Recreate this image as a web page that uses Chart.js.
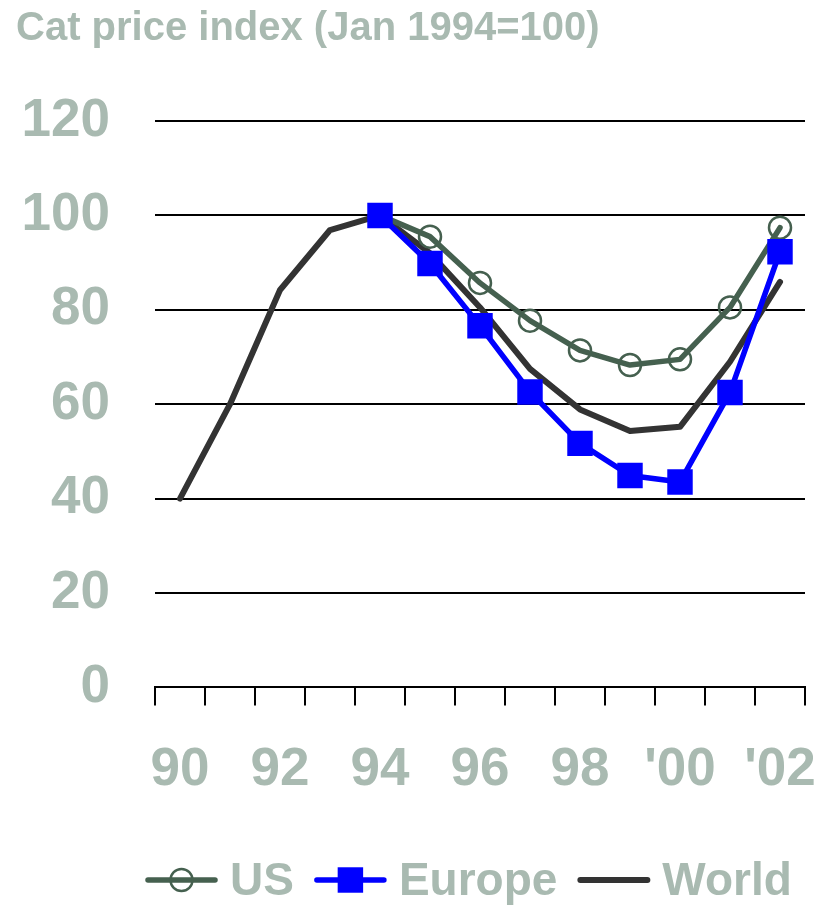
<!DOCTYPE html>
<html><head><meta charset="utf-8">
<script src="https://cdn.jsdelivr.net/npm/chart.js@4/dist/chart.umd.min.js"></script>
<style>html,body{margin:0;padding:0;background:#fff;overflow:hidden}#wrap{width:818px;height:909px}</style>
</head><body><div id="wrap"><canvas id="c" width="818" height="909"></canvas></div>
<script>
// ---- data ----
const years = ['90','91','92','93','94','95','96','97','98','99',"'00","'01","'02"];
const tickLabels = ['90','','92','','94','','96','','98','',"'00",'',"'02"];
const usValues = [null,null,null,null,100,95.5,85.7,77.7,71.4,68.3,69.5,80.5,97.4];
const europeValues = [null,null,null,null,100,89.8,76.6,62.6,51.7,44.9,43.5,62.5,92.3];
const worldValues = [40,60,84.2,96.9,100,92,80.5,67.5,58.9,54.3,55.2,69,85.9];
const seriesNames = ['US','Europe','World'];
const titleText = 'Cat price index (Jan 1994=100)';

// ---- styling ----
const labelColor = '#a9bab1';
function hasFont(name){
  const c=document.createElement('canvas').getContext('2d');
  c.font='40px monospace'; const a=c.measureText(titleText).width;
  c.font='40px "'+name+'", monospace'; const b=c.measureText(titleText).width;
  return Math.abs(a-b)>0.5;
}
const narrow = hasFont('Liberation Sans Narrow');
const narrowFam = narrow ? '"Liberation Sans Narrow", "Liberation Sans", Arial, sans-serif' : '"Liberation Sans", Arial, sans-serif';
const titleSize = narrow ? 48 : 40;
const legendSize = narrow ? 54 : 46;
const mainFam = '"Liberation Sans", Arial, sans-serif';
const titleLine = titleSize * 1.2;

const legendPlugin = {
  id:'customLegend',
  afterDraw(chart){
    const ctx = chart.ctx;
    ctx.save();
    let x = 145; const yc = 880; const sw = 73;
    ctx.font = 'bold ' + legendSize + 'px ' + narrowFam;
    ctx.textBaseline = 'middle'; ctx.textAlign = 'left';
    chart.data.datasets.forEach(ds => {
      ctx.strokeStyle = ds.borderColor; ctx.lineWidth = ds.borderWidth; ctx.lineCap = 'round';
      ctx.beginPath(); ctx.moveTo(x+3, yc); ctx.lineTo(x+sw-3, yc); ctx.stroke();
      const cx = x + sw/2;
      if (ds.pointStyle === 'circle' && ds.pointRadius > 0) {
        ctx.lineWidth = ds.pointBorderWidth; ctx.strokeStyle = ds.pointBorderColor;
        ctx.beginPath(); ctx.arc(cx, yc, ds.pointRadius, 0, Math.PI*2); ctx.stroke();
      } else if (ds.pointStyle === 'rect' && ds.pointRadius > 0) {
        const s = ds.pointRadius * Math.SQRT1_2;
        ctx.fillStyle = ds.pointBackgroundColor; ctx.fillRect(cx - s, yc - s, 2*s, 2*s);
      }
      ctx.fillStyle = labelColor;
      ctx.fillText(ds.label, x + sw + 12, yc + 2);
      x += sw + 12 + ctx.measureText(ds.label).width + 20;
    });
    ctx.restore();
  }
};

new Chart(document.getElementById('c'), {
  type: 'line',
  data: {
    labels: years,
    datasets: [
      { label: seriesNames[0], data: usValues, borderColor: '#45604f', borderWidth: 5.5,
        pointStyle: 'circle', pointRadius: 11, pointBorderWidth: 2.5, pointBorderColor: '#45604f',
        pointBackgroundColor: 'rgba(0,0,0,0)', order: 2, tension: 0 },
      { label: seriesNames[1], data: europeValues, borderColor: '#0000ff', borderWidth: 5.5,
        pointStyle: 'rect', pointRadius: 18, pointBorderWidth: 0, pointBorderColor: '#0000ff',
        pointBackgroundColor: '#0000ff', order: 1, tension: 0 },
      { label: seriesNames[2], data: worldValues, borderColor: '#333333', borderWidth: 6,
        pointStyle: 'circle', pointRadius: 0, order: 3, tension: 0 }
    ]
  },
  options: {
    responsive: false, animation: false, devicePixelRatio: 1,
    layout: { autoPadding: false, padding: { left: 16, right: 13, top: 0, bottom: 74 } },
    plugins: {
      legend: { display: false },
      tooltip: { enabled: false },
      title: { display: true, text: titleText, align: 'start', color: labelColor,
        font: { family: narrowFam, size: titleSize, weight: 'bold', lineHeight: 1.2 },
        padding: { top: 5, bottom: 121 - 5 - titleLine } }
    },
    elements: { line: { borderJoinStyle: 'round', borderCapStyle: 'round' } },
    scales: {
      x: {
        type: 'category', offset: true,
        afterFit: (s) => { s.paddingLeft = 0; s.paddingRight = 0; },
        grid: { offset: true, drawOnChartArea: false, drawTicks: true, tickLength: 18, color: '#000', lineWidth: 2 },
        border: { display: true, color: '#000', width: 2 },
        ticks: { autoSkip: false, maxRotation: 0, minRotation: 0, padding: 33,
          color: labelColor, font: { family: mainFam, size: 53, weight: 'bold' },
          callback: (v, i) => tickLabels[i] }
      },
      y: {
        min: 0, max: 120,
        afterFit: (s) => { s.width = 139; s.paddingTop = 0; s.paddingBottom = 0; },
        grid: { color: '#000', lineWidth: 2, drawTicks: false },
        border: { display: false },
        ticks: { stepSize: 20, padding: 45, color: labelColor,
          font: { family: mainFam, size: 53, weight: 'bold' } }
      }
    }
  },
  plugins: [legendPlugin]
});
</script>
</body></html>
